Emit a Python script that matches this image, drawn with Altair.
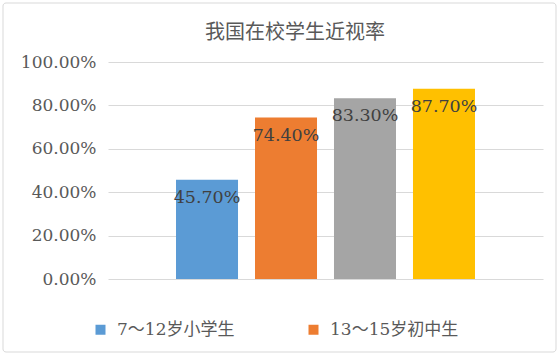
import altair as alt
import pandas as pd

title_text = "我国在校学生近视率"
categories = ["7～12岁小学生", "13～15岁初中生", "16～18岁高中生", "大学生"]
values = [0.457, 0.744, 0.833, 0.877]
colors = ["#5B9BD5", "#ED7D31", "#A5A5A5", "#FFC000"]
legend_shown = ["7～12岁小学生", "13～15岁初中生"]
y_ticks = [0, 0.2, 0.4, 0.6, 0.8, 1.0]

df = pd.DataFrame({"group": categories, "rate": values})

x_enc = alt.X("group:N", sort=categories, axis=None,
              scale=alt.Scale(paddingInner=0.215, paddingOuter=0.861))
y_scale = alt.Scale(domain=[0, 1], nice=False)

bars = alt.Chart(df).mark_bar().encode(
    x=x_enc,
    y=alt.Y("rate:Q", scale=y_scale,
            axis=alt.Axis(values=y_ticks, format=".2%", title=None, domain=False,
                          ticks=False, labelPadding=12, gridColor="#D9D9D9",
                          labelColor="#595959", labelFontSize=17,
                          labelFont="DejaVu Serif")),
    color=alt.Color("group:N", sort=categories,
                    scale=alt.Scale(domain=categories, range=colors),
                    legend=alt.Legend(values=legend_shown, orient="none", legendX=-16,
                                      legendY=259, direction="horizontal", title=None,
                                      symbolType="square", symbolSize=100,
                                      symbolStrokeWidth=0, labelFontSize=17,
                                      labelFont="DejaVu Serif, Noto Sans CJK SC",
                                      labelColor="#595959", labelOffset=8,
                                      columnPadding=70, columns=2)),
)

labels = alt.Chart(df).mark_text(baseline="middle", dy=18, fontSize=17.5,
                                 font="DejaVu Serif", color="#404040").encode(
    x=x_enc,
    y=alt.Y("rate:Q", scale=y_scale),
    text=alt.Text("rate:Q", format=".2%"),
)

border = alt.Chart(pd.DataFrame({"a": [0]})).mark_rect(
    fill=None, stroke="#D9D9D9", strokeWidth=1, cornerRadius=3
).encode(x=alt.value(-105), x2=alt.value(448), y=alt.value(-59), y2=alt.value(290))

title = alt.Chart(pd.DataFrame({"t": [title_text]})).mark_text(
    font="Noto Sans CJK SC", fontSize=20, color="#595959", align="center",
    baseline="middle"
).encode(x=alt.value(187), y=alt.value(-29), text="t:N")

chart = alt.layer(border, bars, labels, title).properties(
    width=435, height=217,
    autosize=alt.AutoSizeParams(type="none"),
    padding={"left": 108, "top": 62, "right": 17, "bottom": 76},
).configure_view(stroke=None)

chart.save("out.html", embed_options={"renderer": "svg", "actions": False})
